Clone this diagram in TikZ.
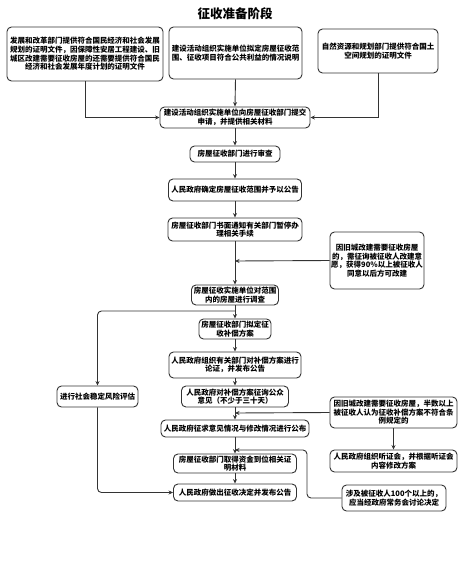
\documentclass[tikz,border=0pt]{standalone}
\usepackage{fontspec}
\setmainfont{Noto Sans CJK SC}
\usetikzlibrary{arrows.meta}
\definecolor{linec}{HTML}{333333}
\tikzset{
  box/.style={draw=linec, line width=0.9pt, rounded corners=4.5pt, fill=white, align=center,
    inner sep=1pt, font=\fontsize{7.5}{8.6}\selectfont\bfseries, text=black},
  arr/.style={draw=linec, line width=0.9pt, -{Stealth[length=4.5pt,width=4pt]}},
  ln/.style={draw=linec, line width=0.9pt}
}
\begin{document}
\begin{tikzpicture}[x=1pt,y=-1pt]
\useasboundingbox (0,0) rectangle (474,563);
\node[font=\fontsize{12.5}{14}\selectfont\bfseries] (title) at (235,14) {征收准备阶段};

\node[box, minimum width=156, minimum height=54] (b1) at (85,54) {发展和改革部门提供符合国民经济和社会发展\\规划的证明文件，因保障性安居工程建设、旧\\城区改建需要征收房屋的还需要提供符合国民\\经济和社会发展年度计划的证明文件};
\node[box, minimum width=133, minimum height=52] (b2) at (235.5,53) {建设活动组织实施单位拟定房屋征收范\\围、征收项目符合公共利益的情况说明};
\node[box, minimum width=120, minimum height=44] (b3) at (378,51) {自然资源和规划部门提供符合国土\\空间规划的证明文件};
\node[box, minimum width=150, minimum height=21] (b4) at (235,117.5) {建设活动组织实施单位向房屋征收部门提交\\申请，并提供相关材料};
\node[box, minimum width=90, minimum height=16] (b5) at (235,154) {房屋征收部门进行审查};
\node[box, minimum width=133, minimum height=22] (b6) at (235,190) {人民政府确定房屋征收范围并予以公告};
\node[box, minimum width=134, minimum height=23] (b7) at (235,229.5) {房屋征收部门书面通知有关部门暂停办\\理相关手续};
\node[box, minimum width=94, minimum height=57] (b8) at (377,260.5) {因旧城改建需要征收房屋\\的，需征询被征收人改建意\\愿，获得90\%以上被征收人\\同意以后方可改建};
\node[box, minimum width=87, minimum height=20] (b9) at (235,295) {房屋征收实施单位对范围\\内的房屋进行调查};
\node[box, minimum width=72, minimum height=20] (b10) at (235,329) {房屋征收部门拟定征\\收补偿方案};
\node[box, minimum width=81, minimum height=21] (b11) at (97.5,396.5) {进行社会稳定风险评估};
\node[box, minimum width=132, minimum height=26] (b12) at (235,365) {人民政府组织有关部门对补偿方案进行\\论证，并发布公告};
\node[box, minimum width=107, minimum height=21] (b13) at (235,396.5) {人民政府对补偿方案征询公众\\意见（不少于三十天）};
\node[box, minimum width=127, minimum height=31] (b14) at (393.5,412.5) {因旧城改建需要征收房屋，半数以上\\被征收人认为征收补偿方案不符合条\\例规定的};
\node[box, minimum width=148, minimum height=17] (b15) at (235,428.5) {人民政府征求意见情况与修改情况进行公布};
\node[box, minimum width=127, minimum height=22] (b16) at (393.5,461) {人民政府组织听证会，并根据听证会\\内容修改方案};
\node[box, minimum width=123, minimum height=19] (b17) at (235,463.5) {房屋征收部门取得资金到位相关证\\明材料};
\node[box, minimum width=123, minimum height=17] (b18) at (235,492.5) {人民政府做出征收决定并发布公告};
\node[box, minimum width=104, minimum height=26] (b19) at (394,498) {涉及被征收人100个以上的，\\应当经政府常务会讨论决定};

\coordinate (j1) at (235,261);
\coordinate (j2) at (235,311);
\coordinate (j3) at (235,413);
\coordinate (j4) at (235,450);
\coordinate (c19) at (307,450);

\draw[arr] (b1.south) |- (b4.west);
\draw[arr] (b3.south) |- (b4.east);
\draw[arr] (b2.south) -- (b4.north);
\draw[arr] (b4) -- (b5);
\draw[arr] (b5) -- (b6);
\draw[arr] (b6) -- (b7);
\draw[arr] (b7) -- (b9);
\draw[arr] (b8.west) -- (j1);
\draw[arr] (b9) -- (b10);
\draw[arr, rounded corners=4pt] (j2) -| (b11.north);
\draw[arr, rounded corners=4pt] (b11.south) |- (b18.west);
\draw[arr] (b10) -- (b12);
\draw[arr] (b12) -- (b13);
\draw[arr] (b13) -- (b15);
\draw[arr] (b14.west) -- (j3);
\draw[arr] (b14.south) -- (b16.north);
\draw[arr] (b15) -- (b17);
\draw[arr] (b17) -- (b18);
\draw[arr, rounded corners=4pt] (b19.west) -| (c19) -- (j4);
\end{tikzpicture}
\end{document}
